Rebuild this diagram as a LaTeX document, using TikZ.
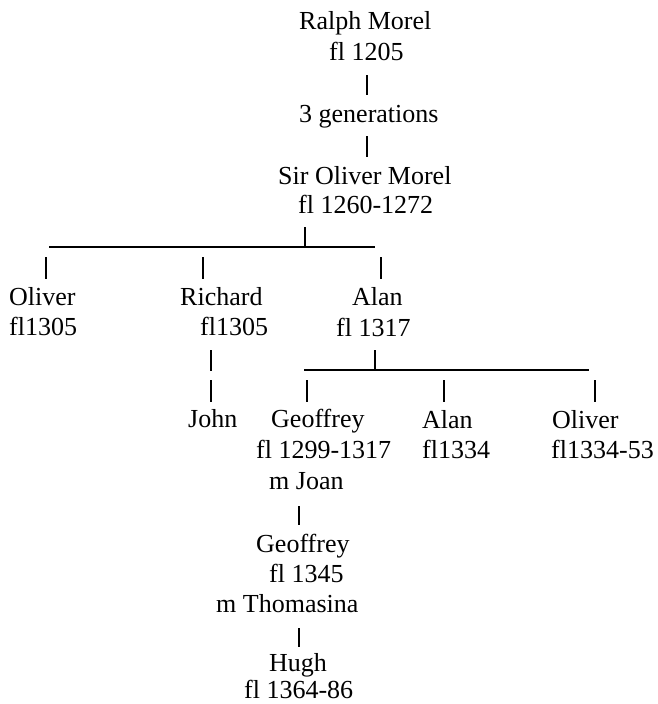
\documentclass[tikz,border=0pt]{standalone}
\usepackage{fontspec}
\setmainfont{Liberation Serif}
\tikzset{
  t/.style={inner sep=0pt, anchor=base west, font=\fontsize{26}{30}\selectfont},
  link/.style={line width=1.4pt, black}
}
\begin{document}
\begin{tikzpicture}[x=1pt,y=-1pt]
\useasboundingbox (0,0) rectangle (657,704);
% people
\node[t] (ralph) at (299,29) {Ralph Morel};
\node[t] (ralphfl) at (329,60) {fl 1205};
\node[t] (gens) at (299,122) {3 generations};
\node[t] (sirol) at (278,184) {Sir Oliver Morel};
\node[t] (sirolfl) at (298,213) {fl 1260-1272};
\node[t] (oliver) at (9,305) {Oliver};
\node[t] (oliverfl) at (9,335) {fl1305};
\node[t] (richard) at (180,305) {Richard};
\node[t] (richardfl) at (200,335) {fl1305};
\node[t] (alan) at (352,305) {Alan};
\node[t] (alanfl) at (336,336) {fl 1317};
\node[t] (john) at (188,427) {John};
\node[t] (geoff) at (271,427) {Geoffrey};
\node[t] (alan2) at (422,428) {Alan};
\node[t] (oliver2) at (552,428) {Oliver};
\node[t] (geofffl) at (256,458) {fl 1299-1317};
\node[t] (alan2fl) at (422,458) {fl1334};
\node[t] (oliver2fl) at (551,458) {fl1334-53};
\node[t] (joan) at (269,489) {m Joan};
\node[t] (geoffb) at (256,552) {Geoffrey};
\node[t] (geoffbfl) at (269,582) {fl 1345};
\node[t] (thom) at (216,612) {m Thomasina};
\node[t] (hugh) at (269,671) {Hugh};
\node[t] (hughfl) at (244,698) {fl 1364-86};
% connector coordinates
\coordinate (a1) at (367,75);  \coordinate (a2) at (367,95);
\coordinate (b1) at (367,136); \coordinate (b2) at (367,157);
\coordinate (c1) at (305,227); \coordinate (c2) at (305,247);
\coordinate (bar1l) at (49,247); \coordinate (bar1r) at (375,247);
\coordinate (d1) at (46,257);  \coordinate (d2) at (46,279);
\coordinate (e1) at (203,257); \coordinate (e2) at (203,279);
\coordinate (f1) at (381,257); \coordinate (f2) at (381,279);
\coordinate (g1) at (211,350); \coordinate (g2) at (211,371);
\coordinate (h1) at (211,380); \coordinate (h2) at (211,402);
\coordinate (i1) at (375,350); \coordinate (i2) at (375,370);
\coordinate (bar2l) at (304,370); \coordinate (bar2r) at (589,370);
\coordinate (j1) at (307,380); \coordinate (j2) at (307,402);
\coordinate (k1) at (444,380); \coordinate (k2) at (444,402);
\coordinate (l1) at (595,380); \coordinate (l2) at (595,402);
\coordinate (m1) at (299,506); \coordinate (m2) at (299,525);
\coordinate (n1) at (299,628); \coordinate (n2) at (299,647);
% connectors
\draw[link] (a1) -- (a2);
\draw[link] (b1) -- (b2);
\draw[link] (c1) -- (c2);
\draw[link] (bar1l) -- (bar1r);
\draw[link] (d1) -- (d2);
\draw[link] (e1) -- (e2);
\draw[link] (f1) -- (f2);
\draw[link] (g1) -- (g2);
\draw[link] (h1) -- (h2);
\draw[link] (i1) -- (i2);
\draw[link] (bar2l) -- (bar2r);
\draw[link] (j1) -- (j2);
\draw[link] (k1) -- (k2);
\draw[link] (l1) -- (l2);
\draw[link] (m1) -- (m2);
\draw[link] (n1) -- (n2);
\end{tikzpicture}
\end{document}
